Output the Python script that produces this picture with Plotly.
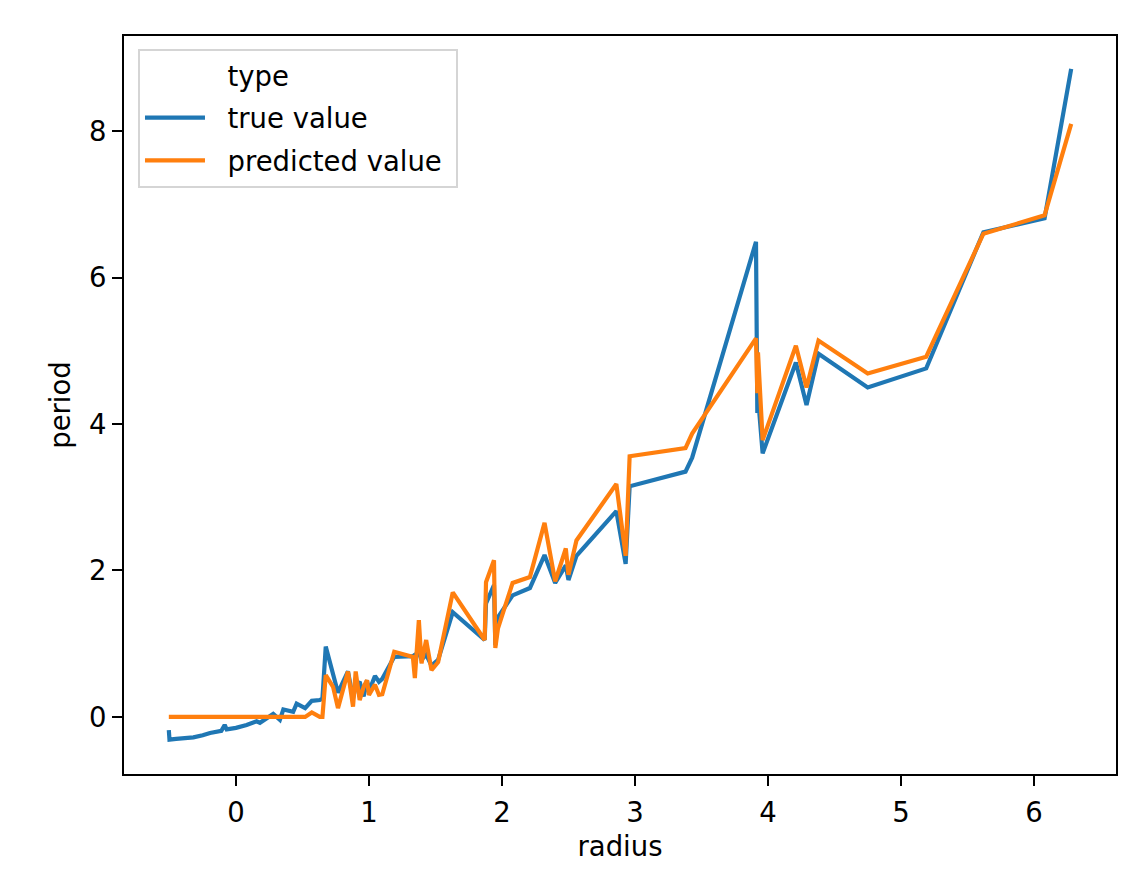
import plotly.graph_objects as go

radius = [-0.505, -0.50, -0.45, -0.40, -0.32, -0.25, -0.195, -0.11, -0.085, -0.07,
          0.0, 0.08, 0.155, 0.18, 0.28, 0.33, 0.356, 0.43, 0.456, 0.52,
          0.57, 0.63, 0.65, 0.675, 0.73, 0.767, 0.842, 0.88, 0.90, 0.93,
          0.96, 0.985, 1.0, 1.045, 1.075, 1.10, 1.19, 1.33, 1.345, 1.375,
          1.395, 1.43, 1.47, 1.52, 1.63, 1.87, 1.88, 1.94, 1.95, 1.97,
          2.08, 2.21, 2.32, 2.40, 2.48, 2.50, 2.56, 2.86, 2.93, 2.96,
          3.38, 3.43, 3.91, 3.92, 3.925, 3.96, 4.21, 4.29, 4.38, 4.75,
          5.19, 5.62, 6.08, 6.28]

true_value = [-0.18, -0.31, -0.30, -0.29, -0.28, -0.25, -0.22, -0.19, -0.11, -0.17,
              -0.15, -0.11, -0.06, -0.08, 0.04, -0.04, 0.10, 0.07, 0.18, 0.12,
              0.22, 0.23, 0.25, 0.96, 0.58, 0.33, 0.62, 0.25, 0.42, 0.48,
              0.28, 0.50, 0.35, 0.56, 0.48, 0.52, 0.82, 0.83, 0.85, 0.88,
              0.78, 0.85, 0.70, 0.78, 1.43, 1.05, 1.55, 1.80, 0.98, 1.36,
              1.66, 1.76, 2.21, 1.83, 2.07, 1.87, 2.20, 2.81, 2.09, 3.15,
              3.35, 3.54, 6.49, 4.15, 4.38, 3.60, 4.84, 4.26, 4.96, 4.50,
              4.76, 6.62, 6.81, 8.85]

predicted_value = [0.0, 0.0, 0.0, 0.0, 0.0, 0.0, 0.0, 0.0, 0.0, 0.0,
                   0.0, 0.0, 0.0, 0.0, 0.0, 0.0, 0.0, 0.0, 0.0, 0.0,
                   0.06, 0.0, 0.0, 0.57, 0.41, 0.12, 0.62, 0.14, 0.62, 0.23,
                   0.41, 0.50, 0.30, 0.44, 0.30, 0.31, 0.89, 0.82, 0.53, 1.32,
                   0.73, 1.05, 0.64, 0.75, 1.70, 1.05, 1.84, 2.14, 0.94, 1.21,
                   1.83, 1.91, 2.65, 1.85, 2.30, 1.94, 2.41, 3.18, 2.20, 3.56,
                   3.67, 3.87, 5.17, 4.42, 4.98, 3.78, 5.07, 4.50, 5.14, 4.69,
                   4.92, 6.60, 6.85, 8.10]

x_ticks = [0, 1, 2, 3, 4, 5, 6]
y_ticks = [0, 2, 4, 6, 8]
legend_title = "type"
series_names = ["true value", "predicted value"]

FONT = "DejaVu Sans"
FS = 27.5
PAD = "\u00a0\u00a0"
fig = go.Figure()
fig.add_trace(go.Scatter(x=[None], y=[None], mode="lines", name=PAD + legend_title,
                         line=dict(color="rgba(0,0,0,0)", width=4.2),
                         legendgroup="g0", hoverinfo="skip"))
fig.add_trace(go.Scatter(x=radius, y=true_value, mode="lines", name=PAD + series_names[0],
                         line=dict(color="#1f77b4", width=4.2), legendgroup="g1"))
fig.add_trace(go.Scatter(x=radius, y=predicted_value, mode="lines", name=PAD + series_names[1] + "\u00a0",
                         line=dict(color="#ff7f0e", width=4.2), legendgroup="g2"))

axis_common = dict(showline=True, linecolor="black", linewidth=2.2, mirror=True,
                   ticks="outside", ticklen=10, tickwidth=2.2, tickcolor="black",
                   showgrid=False, zeroline=False,
                   tickfont=dict(family=FONT, size=FS, color="black"))

fig.update_layout(
    width=1146, height=870,
    margin=dict(l=116, r=38, t=28, b=104),
    paper_bgcolor="white", plot_bgcolor="white",
    font=dict(family=FONT, size=FS, color="black"),
    xaxis=dict(range=[-0.842, 6.617], tickvals=x_ticks, ticklabelstandoff=3,
               title=dict(text="radius", font=dict(family=FONT, size=FS), standoff=10),
               **axis_common),
    yaxis=dict(range=[-0.78, 9.3], tickvals=y_ticks,
               title=dict(text="period", font=dict(family=FONT, size=FS), standoff=10),
               **axis_common),
    legend=dict(x=0.0141, y=0.983, xanchor="left", yanchor="top",
                bgcolor="rgba(255,255,255,0.8)", bordercolor="#d5d5d5", borderwidth=2,
                font=dict(family=FONT, size=FS, color="black"),
                itemwidth=60, tracegroupgap=4, traceorder="grouped"),
    showlegend=True,
)

fig.write_html("out.html")
